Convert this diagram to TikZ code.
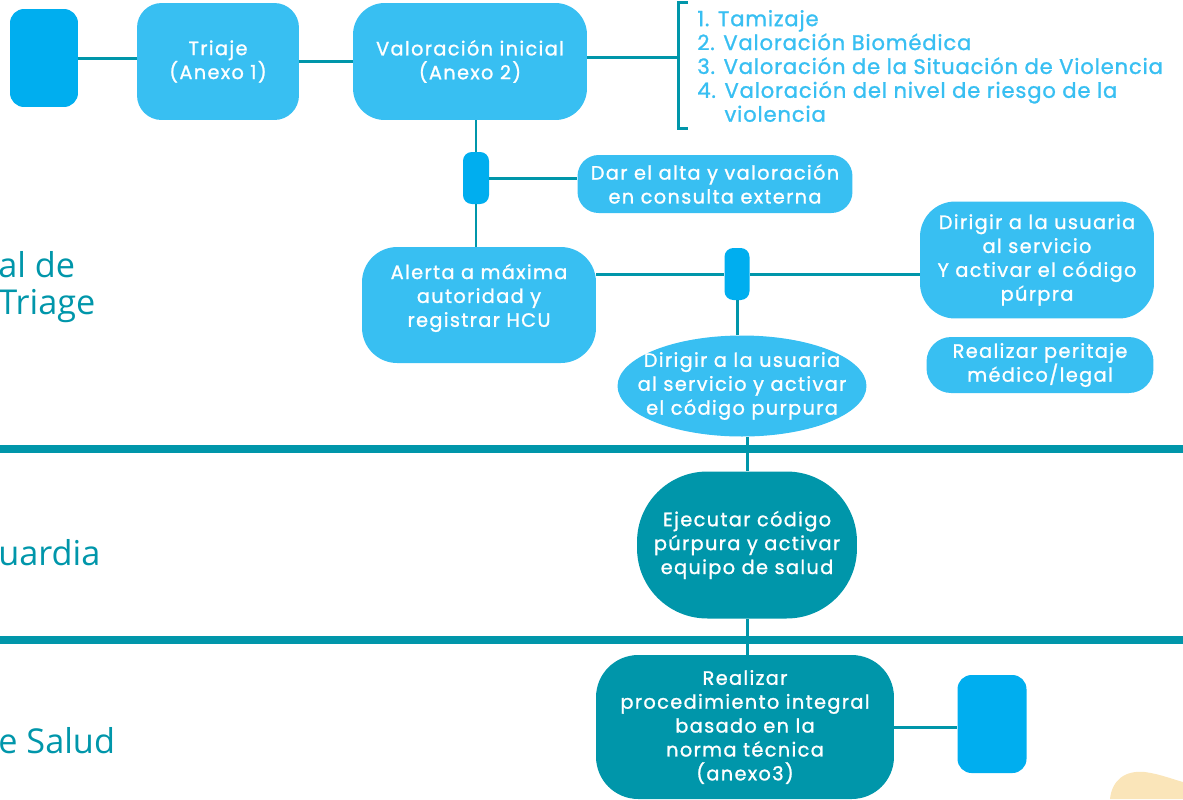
\documentclass[tikz,border=0pt]{standalone}
\usepackage{fontspec}
\setmainfont{Poppins}
\newfontfamily\boxfont{Poppins}[LetterSpace=7,FakeBold=1.2]
\newfontfamily\listfont{Poppins}[LetterSpace=4,FakeBold=1.2]
\newfontfamily\lanefont{Open Sans}
\usetikzlibrary{shapes.geometric,positioning}
\definecolor{skyb}{RGB}{56,191,242}
\definecolor{capb}{RGB}{0,174,239}
\definecolor{tealc}{RGB}{0,150,170}
\definecolor{yell}{RGB}{250,229,185}
\begin{document}
\begin{tikzpicture}[x=0.02cm,y=-0.02cm,
        box/.style={fill=skyb,text=white,align=center,inner sep=0pt,font=\boxfont\fontsize{11}{13.6}\selectfont},
        darkbox/.style={box,fill=tealc},
        capsule/.style={fill=capb,inner sep=0pt,rounded corners=8pt},
        link/.style={draw=tealc,line width=1.7pt},
        lane/.style={text=tealc,anchor=west,align=left,inner sep=0pt,font=\lanefont\fontsize{19.5}{21}\selectfont}]
        \useasboundingbox (0,0) rectangle (1183,799);
        \fill[yell] (1110,799) .. controls (1112,780) and (1125,770) .. (1145,772) .. controls (1160,774) and (1175,780) .. (1183,782) -- (1183,799) -- cycle;
        \draw[tealc,line width=4.5pt] (0,449) -- (1183,449);
        \draw[tealc,line width=4.5pt] (0,640) -- (1183,640);
        \node[lane] (ltriage) at (-2,287) {al de\\Triage};
        \node[lane] (lguardia) at (-2,553) {uardia};
        \node[lane] (lsalud) at (-2,741) {e Salud};
        \node[capsule,minimum width=1.36cm,minimum height=1.96cm] (start) at (44,58) {};
        \node[box,rounded corners=14pt,minimum width=3.24cm,minimum height=2.34cm] (triaje) at (218,61.5) {Triaje\\(Anexo 1)};
        \node[box,rounded corners=18pt,minimum width=4.68cm,minimum height=2.34cm] (valini) at (470,61.5) {Valoración inicial\\(Anexo 2)};
        \node[anchor=west,align=left,inner sep=0pt,text=skyb,font=\listfont\fontsize{12}{13.6}\selectfont] (lista) at (697,66)
          {1. Tamizaje\\2. Valoración Biomédica\\3. Valoración de la Situación de Violencia\\4. Valoración del nivel de riesgo de la\\\phantom{4. }violencia};
        \coordinate (brk) at (678,57);
        \draw[link] (688,2) -- (678,2) -- (678,128) -- (688,128);
        \node[capsule,rounded corners=5pt,minimum width=0.52cm,minimum height=1.04cm] (cap1) at (476,178) {};
        \node[box,rounded corners=12pt,minimum width=5.5cm,minimum height=1.16cm] (alta) at (715,184) {Dar el alta y valoración\\en consulta externa};
        \node[box,rounded corners=20pt,minimum width=4.68cm,minimum height=2.32cm,text depth=11pt] (alerta) at (479,305) {Alerta a máxima\\autoridad y\\registrar HCU};
        \node[capsule,rounded corners=5pt,minimum width=0.5cm,minimum height=1.04cm] (cap2) at (737,274) {};
        \node[box,rounded corners=20pt,minimum width=4.68cm,minimum height=2.34cm] (dirig2) at (1037,260) {Dirigir a la usuaria\\al servicio\\Y activar el código\\púrpra};
        \node[box,rounded corners=14pt,minimum width=4.54cm,minimum height=1.12cm] (peritaje) at (1040,365) {Realizar peritaje\\médico/legal};
        \node[box,shape=ellipse,inner xsep=-11pt,minimum width=4.98cm,minimum height=2.02cm] (dirig1) at (742,386) {Dirigir a la usuaria\\al servicio y activar\\el código purpura};
        \node[darkbox,rounded corners=40pt,minimum width=4.4cm,minimum height=2.94cm] (ejecutar) at (747,545) {Ejecutar código\\púrpura y activar\\equipo de salud};
        \node[darkbox,rounded corners=24pt,minimum width=5.96cm,minimum height=2.88cm] (realizar) at (745,727) {Realizar\\procedimiento integral\\basado en la\\norma técnica\\(anexo3)};
        \node[capsule,minimum width=1.38cm,minimum height=1.96cm] (cap3) at (992,724) {};
        \draw[link] (start.east) -- (start.east -| triaje.west);
        \draw[link] (triaje.east) -- (valini.west);
        \draw[link] (valini.east |- brk) -- (brk);
        \draw[link] (valini.south -| cap1) -- (cap1.north);
        \draw[link] (cap1.south) -- (cap1.south |- alerta.north);
        \draw[link] (cap1.east) -- (cap1.east -| alta.west);
        \draw[link] (cap2.west -| alerta.east) -- (cap2.west);
        \draw[link] (cap2.east) -- (cap2.east -| dirig2.west);
        \draw[link] (cap2.south) -- (cap2.south |- dirig1.north);
        \draw[link] (ejecutar.north |- dirig1.south) -- (ejecutar.north);
        \draw[link] (ejecutar.south) -- (ejecutar.south |- realizar.north);
        \draw[link] (realizar.east) -- (realizar.east -| cap3.west);
      \end{tikzpicture}
\end{document}
